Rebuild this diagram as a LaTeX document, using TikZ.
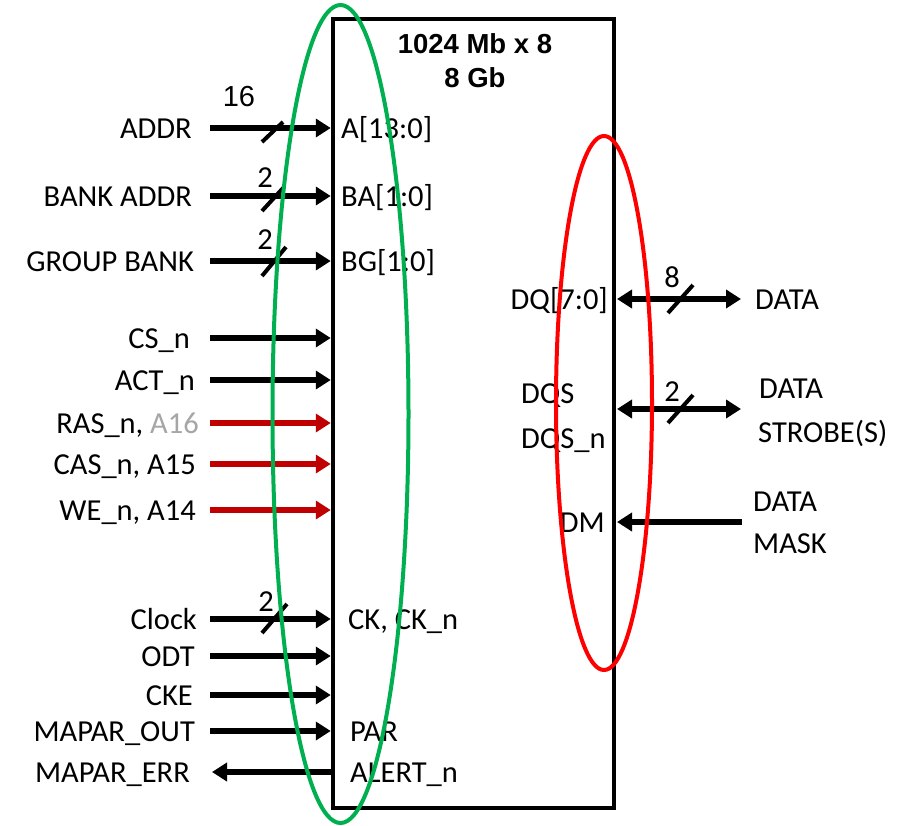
\documentclass[tikz,border=0pt]{standalone}
\usepackage{fontspec}
\setmainfont{Carlito}
\newfontfamily\arialfont{Liberation Sans}
\usetikzlibrary{arrows.meta}
\definecolor{sigred}{HTML}{C00000}
\definecolor{ovgreen}{HTML}{00B050}
\definecolor{ovred}{HTML}{FF0000}
\definecolor{dimgrey}{HTML}{A6A6A6}
\begin{document}
\begin{tikzpicture}[x=1pt,y=-1pt,
  lbl/.style={font=\fontsize{30.5}{36}\selectfont, inner sep=0pt},
  lblr/.style={lbl, anchor=base east},
  lbll/.style={lbl, anchor=base west},
  num/.style={lbl, anchor=center},
  title/.style={font=\arialfont\bfseries\fontsize{27.5}{32}\selectfont, inner sep=0pt},
  sig/.style={line width=5.5pt, -{Triangle[length=15pt,width=18pt]}},
  bisig/.style={line width=5.5pt, {Triangle[length=15pt,width=18pt]}-{Triangle[length=15pt,width=18pt]}},
  redsig/.style={sig, draw=sigred, color=sigred},
  slash/.style={line width=4pt},
  ring/.style={line width=4pt}
]
\useasboundingbox (0,0) rectangle (913,825);
\fill[white] (0,0) rectangle (913,825);

% chip
\node[draw, line width=4.5pt, minimum width=281pt, minimum height=789pt, inner sep=0pt] (chip) at (473.5,413.5) {};
\node[title] (t1) at (475,44) {1024 Mb x 8};
\node[title] (t2) at (475,78) {8 Gb};

% left side start coordinates
\coordinate (sA)   at (210,128);
\coordinate (sBA)  at (210,196);
\coordinate (sBG)  at (210,261);
\coordinate (sCS)  at (210,338);
\coordinate (sACT) at (210,380);
\coordinate (sRAS) at (210,423);
\coordinate (sCAS) at (210,464);
\coordinate (sWE)  at (210,510);
\coordinate (sCK)  at (210,619);
\coordinate (sODT) at (210,656);
\coordinate (sCKE) at (210,695);
\coordinate (sPAR) at (210,731);
\coordinate (sALT) at (212,772);

% left labels
\node[lblr] (lA)   at (192,138) {ADDR};
\node[lblr] (lBA)  at (192,206) {BANK ADDR};
\node[lblr] (lBG)  at (194,271) {GROUP BANK};
\node[lblr] (lCS)  at (190,348) {CS\_n};
\node[lblr] (lACT) at (195,390) {ACT\_n};
\node[lblr] (lRAS) at (199,433) {RAS\_n, \textcolor{dimgrey}{A16}};
\node[lblr] (lCAS) at (196,474) {CAS\_n, A15};
\node[lblr] (lWE)  at (196,520) {WE\_n, A14};
\node[lblr] (lCK)  at (197,629) {Clock};
\node[lblr] (lODT) at (195,666) {ODT};
\node[lblr] (lCKE) at (193,705) {CKE};
\node[lblr] (lPAR) at (195,741) {MAPAR\_OUT};
\node[lblr] (lALT) at (190,782) {MAPAR\_ERR};

% pin labels (inside, left)
\node[lbll] (pA)   at (341,138) {A[13:0]};
\node[lbll] (pBA)  at (341,206) {BA[1:0]};
\node[lbll] (pBG)  at (341,271) {BG[1:0]};
\node[lbll] (pCK)  at (348,629) {CK, CK\_n};
\node[lbll] (pPAR) at (350,741) {PAR};
\node[lbll] (pALT) at (350,782) {ALERT\_n};

% left connectors
\draw[sig] (sA) -- (sA -| chip.west);
\draw[sig] (sBA) -- (sBA -| chip.west);
\draw[sig] (sBG) -- (sBG -| chip.west);
\draw[sig] (sCS) -- (sCS -| chip.west);
\draw[sig] (sACT) -- (sACT -| chip.west);
\draw[redsig] (sRAS) -- (sRAS -| chip.west);
\draw[redsig] (sCAS) -- (sCAS -| chip.west);
\draw[redsig] (sWE) -- (sWE -| chip.west);
\draw[sig] (sCK) -- (sCK -| chip.west);
\draw[sig] (sODT) -- (sODT -| chip.west);
\draw[sig] (sCKE) -- (sCKE -| chip.west);
\draw[sig] (sPAR) -- (sPAR -| chip.west);
\draw[sig] (sALT -| chip.west) -- (sALT);

% bus slashes and widths
\draw[slash] (262,142) -- (283,122);
\node[font=\arialfont\fontsize{29}{34}\selectfont, inner sep=0pt] (w16) at (239,97) {16};
\draw[slash] (262,211) -- (284,187);
\node[num] (w2a) at (265,178) {2};
\draw[slash] (262,276) -- (286,247);
\node[num] (w2b) at (265,240) {2};
\draw[slash] (262,633) -- (287,604);
\node[num] (w2c) at (266,602) {2};

% right side
\coordinate (dqi) at (617,299);
\coordinate (dqo) at (741,299);
\coordinate (dsi) at (617,409);
\coordinate (dso) at (741,409);
\coordinate (dmi) at (617,522);
\coordinate (dmo) at (742,522);
\draw[bisig] (dqi) -- (dqo);
\draw[bisig] (dsi) -- (dso);
\draw[sig] (dmo) -- (dmi);
\draw[slash] (668,313) -- (693,285);
\node[num] (w8) at (672,277) {8};
\draw[slash] (668,423) -- (693,395);
\node[num] (w2d) at (672,392) {2};

\node[lblr] (pDQ)  at (608,309) {DQ[7:0]};
\node[lbll] (pDQS) at (521,403) {DQS};
\node[lbll] (pDQSn) at (521,448) {DQS\_n};
\node[lblr] (pDM)  at (605,532) {DM};

\node[lbll] (oDATA) at (755,309) {DATA};
\node[lbll] (oDS1) at (759,398) {DATA};
\node[lbll] (oDS2) at (758,442) {STROBE(S)};
\node[lbll] (oDM1) at (753,511) {DATA};
\node[lbll] (oDM2) at (753,553) {MASK};

% highlight ellipses
\draw[ring, ovgreen] (340.5,414) ellipse [x radius=68pt, y radius=409pt];
\draw[ring, ovred] (604,403) ellipse [x radius=48pt, y radius=267pt];
\end{tikzpicture}
\end{document}
